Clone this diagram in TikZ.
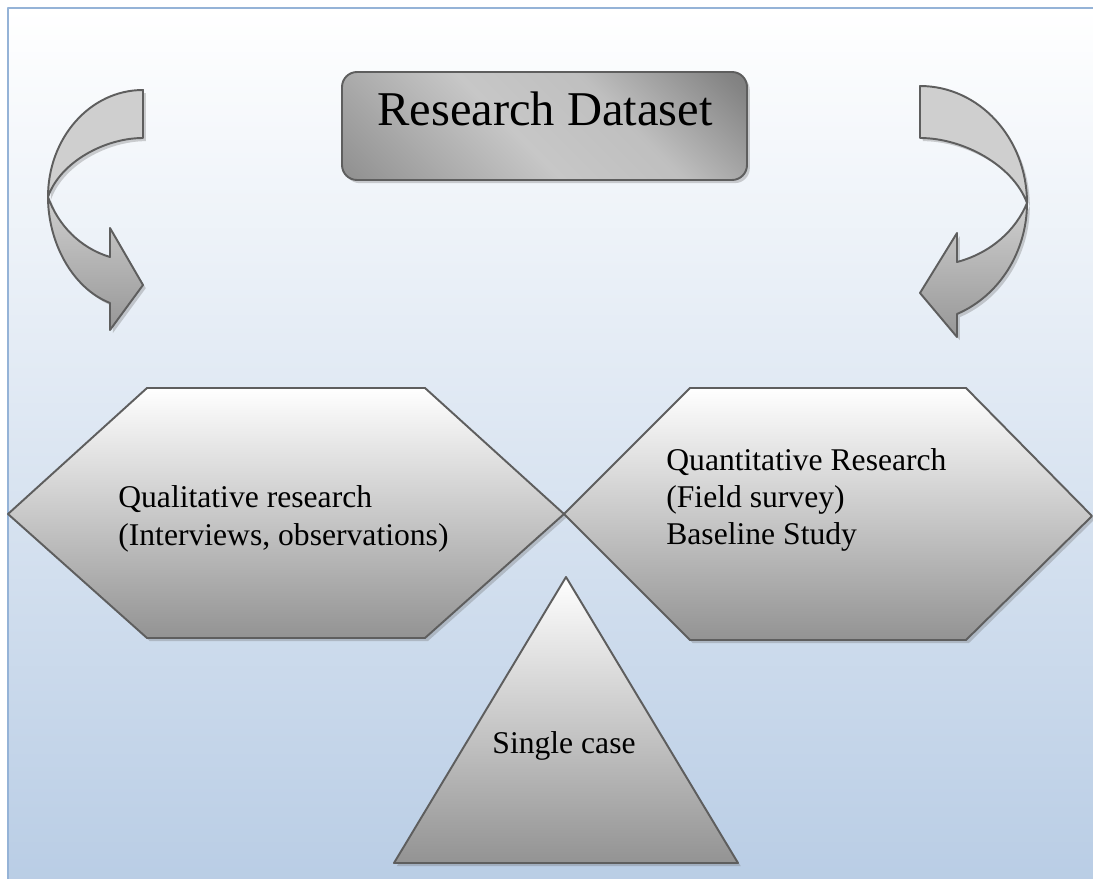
\documentclass[tikz,border=0pt]{standalone}
\usepackage{fontspec}
\setmainfont{Liberation Serif}
\usetikzlibrary{shadows}
\definecolor{framebl}{HTML}{95B3D7}
\definecolor{bgblue}{HTML}{B9CDE5}
\definecolor{edgegray}{HTML}{5E5E5E}
\definecolor{shapegray}{HTML}{939393}
\definecolor{bandlight}{HTML}{CFCFCF}
\definecolor{banddark}{HTML}{979797}
\pgfdeclareverticalshading{titleshade}{100bp}{
  color(0bp)=(black!55); color(20bp)=(black!40); color(45bp)=(black!22);
  color(62bp)=(black!25); color(82bp)=(black!48); color(100bp)=(black!62)}
\tikzset{
    every picture/.style={line cap=round,line join=round},
    outline/.style={draw=edgegray,line width=1.1pt},
    softshadow/.style={drop shadow={shadow xshift=1.6pt,shadow yshift=-1.8pt,
      opacity=0.3,fill=black!60}},
    hexshape/.style={outline,softshadow,top color=white,bottom color=shapegray},
    bandupper/.style={outline,softshadow,fill=bandlight},
    bandlower/.style={outline,softshadow,top color=bandlight,bottom color=banddark},
    titlebox/.style={outline,softshadow,rounded corners=0.3cm,shading=titleshade,
      shading angle=-45},
    labeltext/.style={inner sep=0pt,align=left,font=\fontsize{18}{21.2}\selectfont}
}

\begin{document}
\begin{tikzpicture}[x=0.02cm,y=-0.02cm]
  \useasboundingbox (0,0) rectangle (1093,879);
  \clip (0,0) rectangle (1093,879);

  % backdrop and frame
  \shade[top color=white,bottom color=bgblue] (8,8) rectangle (1100,885);
  \draw[framebl,line width=1.6pt] (8,885) -- (8,8) -- (1100,8);

  % title box
  \shade[titlebox] (342,72) rectangle (747,180);
  \node[anchor=base,font=\fontsize{27.6}{33}\selectfont] (title) at (545,125) {Research Dataset};

  % bent arrows
  \path[bandlower] (48,197) .. controls (48,242) and (72,288) .. (110,303)
    -- (110,330) -- (143,285) -- (110,228) -- (110,257)
    .. controls (80,248) and (58,225) .. (48,197) -- cycle;
  \path[bandupper] (143,90) .. controls (90,90) and (48,138) .. (48,197)
    .. controls (60,162) and (105,138) .. (143,138) -- cycle;

  \path[bandlower] (1027,203) .. controls (1027,252) and (999,296) .. (957,314)
    -- (957,337) -- (920,293) -- (957,233) -- (957,262)
    .. controls (991,253) and (1016,230) .. (1027,203) -- cycle;
  \path[bandupper] (920,86) .. controls (979,86) and (1027,138) .. (1027,203)
    .. controls (1013,165) and (963,138) .. (920,138) -- cycle;

  % research methods
  \path[hexshape] (8,514) -- (147,388) -- (425,388) -- (564,514)
    -- (425,638) -- (147,638) -- cycle;
  \node[labeltext,anchor=west] (qual) at (118,519)
    {Qualitative research\\(Interviews, observations)};

  \path[hexshape] (564,514) -- (690,388) -- (966,388) -- (1092,516)
    -- (966,640) -- (690,640) -- cycle;
  \node[labeltext,anchor=west] (quant) at (666,500)
    {Quantitative Research\\(Field survey)\\Baseline Study};

  \path[hexshape] (566,577) -- (738,863) -- (394,863) -- cycle;
  \node[font=\fontsize{18}{21.2}\selectfont,anchor=base] (single) at (564,753) {Single case};
\end{tikzpicture}
\end{document}
